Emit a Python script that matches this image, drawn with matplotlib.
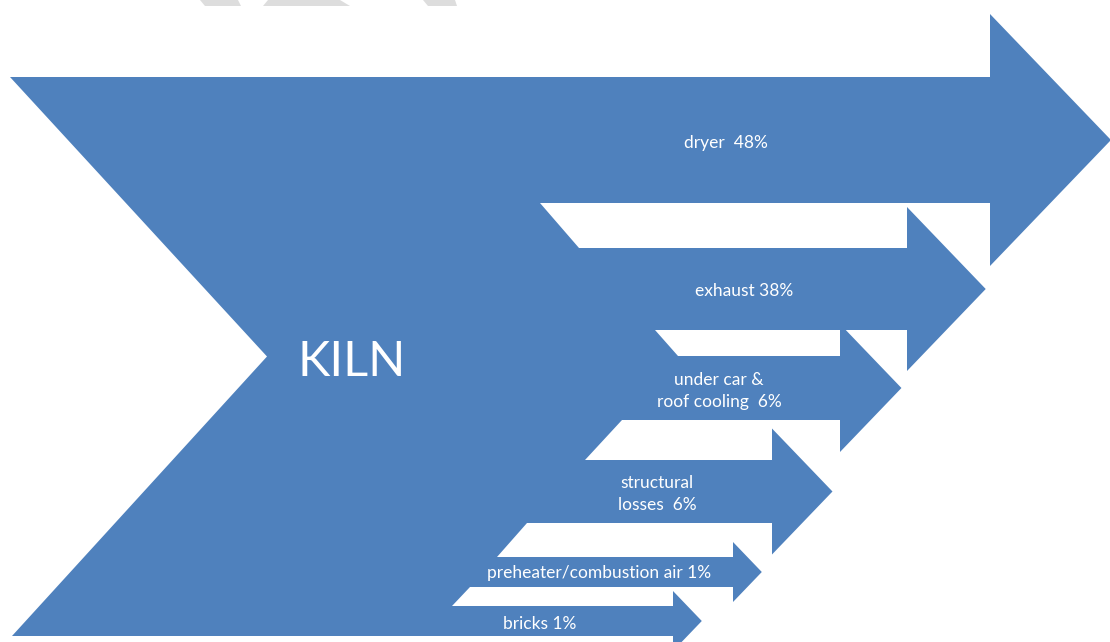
import matplotlib
matplotlib.use('Agg')

import matplotlib.pyplot as plt
from matplotlib.patches import Polygon

# Heat flows leaving the kiln, top to bottom
flow_names = ['dryer ', 'exhaust', 'under car &\nroof cooling ', 'structural\nlosses ',
              'preheater/combustion air', 'bricks']
shares = [48, 38, 6, 6, 1, 1]

# Layout in pixel units (y grows downwards)
shaft_top = [77, 248, 356, 460, 557, 606]
shaft_w = [126, 82, 64, 63, 30, 30]
head_x = [990, 907, 840, 772, 733, 673]
gap_left_top = [540, 655, 622, 527, 470]
gap_left_bot = [579, 678, 585, 497, 452]
label_xy = [(726, 143), (744, 291), (719, 391), (657, 494), (599, 573), (540, 624)]

blue = '#4F81BD'
W, H = 1110, 642

fig = plt.figure(figsize=(W / 100, H / 100), dpi=100)
ax = fig.add_axes([0, 0, 1, 1])
ax.set_xlim(0, W)
ax.set_ylim(H, 0)
ax.axis('off')

# faint grey shapes clipped at the top edge
for pts in [[(200, 0), (238, 0), (241, 6), (205, 6)],
            [(268, 0), (340, 0), (350, 6), (263, 6)],
            [(423, 0), (455, 0), (457, 6), (428, 6)]]:
    ax.add_patch(Polygon(pts, closed=True, fc='#dddddd', ec='none'))

n = len(flow_names)
starts = []
for k in range(n):
    cands = []
    if k > 0:
        cands.append(gap_left_bot[k - 1])
    if k < n - 1:
        cands.append(gap_left_top[k])
    starts.append(min(cands))

# kiln body: chevron on the left, stepped edge where the flows split off
body = [(10, shaft_top[0])]
for k in range(n):
    top = shaft_top[k]
    bot = top + shaft_w[k]
    body += [(starts[k], top), (starts[k], bot)]
    if k < n - 1:
        body += [(gap_left_top[k], bot), (gap_left_bot[k], shaft_top[k + 1])]
bottom = shaft_top[-1] + shaft_w[-1]
body += [(12, bottom), (267, (shaft_top[0] + bottom) / 2)]
ax.add_patch(Polygon(body, closed=True, fc=blue, ec='none'))

# one arrow per flow
for k in range(n):
    top = shaft_top[k]
    w = shaft_w[k]
    bot = top + w
    mid = top + w / 2
    hx = head_x[k]
    pts = [(starts[k], top), (hx, top), (hx, mid - w), (hx + 0.96 * w, mid),
           (hx, mid + w), (hx, bot), (starts[k], bot)]
    ax.add_patch(Polygon(pts, closed=True, fc=blue, ec='none'))
    x, y = label_xy[k]
    label = f'{flow_names[k]} {shares[k]}%'
    ax.text(x, y, label, color='white', fontsize=12.5, family='Lato',
            ha='center', va='center', linespacing=1.45)

ax.text(352, 362, 'KILN', color='white', fontsize=35, family='Lato',
        ha='center', va='center')

fig.savefig('out.png', dpi=100, facecolor='white')
